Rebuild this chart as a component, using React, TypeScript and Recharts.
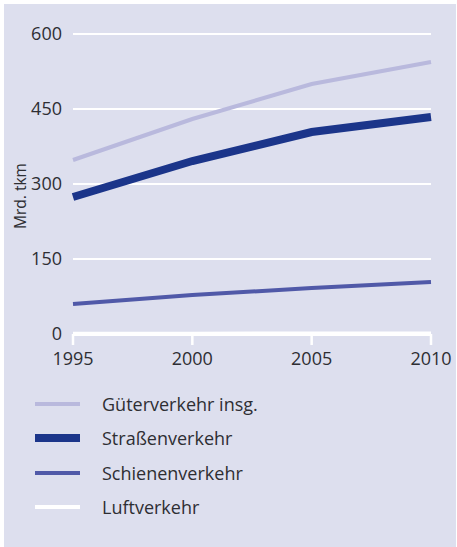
import { CartesianGrid, Label, Line, LineChart, XAxis, YAxis } from 'recharts';

const years = ['1995', '2000', '2005', '2010'];
const gueter = [348, 430, 500, 544];
const strasse = [274, 346, 404, 434];
const schiene = [60, 78, 92, 104];
const luft = [0.5, 0.7, 0.9, 1];
const yTicks = [0, 150, 300, 450, 600];

const series = [
  { key: 'gueter', name: 'Güterverkehr insg.', color: '#b9b9dd', width: 4 },
  { key: 'strasse', name: 'Straßenverkehr', color: '#1b358a', width: 8 },
  { key: 'schiene', name: 'Schienenverkehr', color: '#5059a8', width: 4 },
  { key: 'luft', name: 'Luftverkehr', color: '#ffffff', width: 4 },
];

const data = years.map((year, i) => ({
  year,
  gueter: gueter[i],
  strasse: strasse[i],
  schiene: schiene[i],
  luft: luft[i],
}));

const font = '"Open Sans", sans-serif';
const textColor = '#2e2e33';

// rotated axis title, placed by hand next to the tick labels
const axisTitle = () => (
  <text
    x={22}
    y={192}
    transform="rotate(-90 22 192)"
    textAnchor="middle"
    fill={textColor}
    fontSize={15.5}
    fontFamily={font}
  >
    Mrd. tkm
  </text>
);

export default function App() {
  return (
    <div
      style={{
        position: 'absolute',
        left: 4,
        top: 4,
        width: 452,
        height: 543,
        background: '#dddfee',
        fontFamily: font,
      }}
    >
      <LineChart width={452} height={543} data={data} margin={{ top: 30, right: 25, left: 0, bottom: 183 }}>
        <CartesianGrid horizontal vertical={false} stroke="#ffffff" strokeWidth={2} />
        <XAxis
          dataKey="year"
          axisLine={{ stroke: '#ffffff', strokeWidth: 4 }}
          tickLine={{ stroke: '#ffffff', strokeWidth: 2.5 }}
          tickSize={11}
          tickMargin={7}
          height={30}
          interval={0}
          tick={{ fill: textColor, fontSize: 18, fontFamily: font }}
        />
        <YAxis
          domain={[0, 600]}
          ticks={yTicks}
          width={69}
          axisLine={false}
          tickLine={false}
          tickMargin={5}
          tick={{ fill: textColor, fontSize: 18, fontFamily: font }}
        >
          <Label content={axisTitle} />
        </YAxis>
        {series.map(s => (
          <Line
            key={s.key}
            dataKey={s.key}
            name={s.name}
            stroke={s.color}
            strokeWidth={s.width}
            dot={false}
            activeDot={false}
            isAnimationActive={false}
          />
        ))}
      </LineChart>
      <div style={{ position: 'absolute', left: 31, top: 383 }}>
        {series.map(s => (
          <div key={s.key} style={{ display: 'flex', alignItems: 'center', height: 34.3 }}>
            <div style={{ width: 45, height: s.width, background: s.color }} />
            <span style={{ marginLeft: 22, fontSize: 18, color: textColor }}>{s.name}</span>
          </div>
        ))}
      </div>
    </div>
  );
}
